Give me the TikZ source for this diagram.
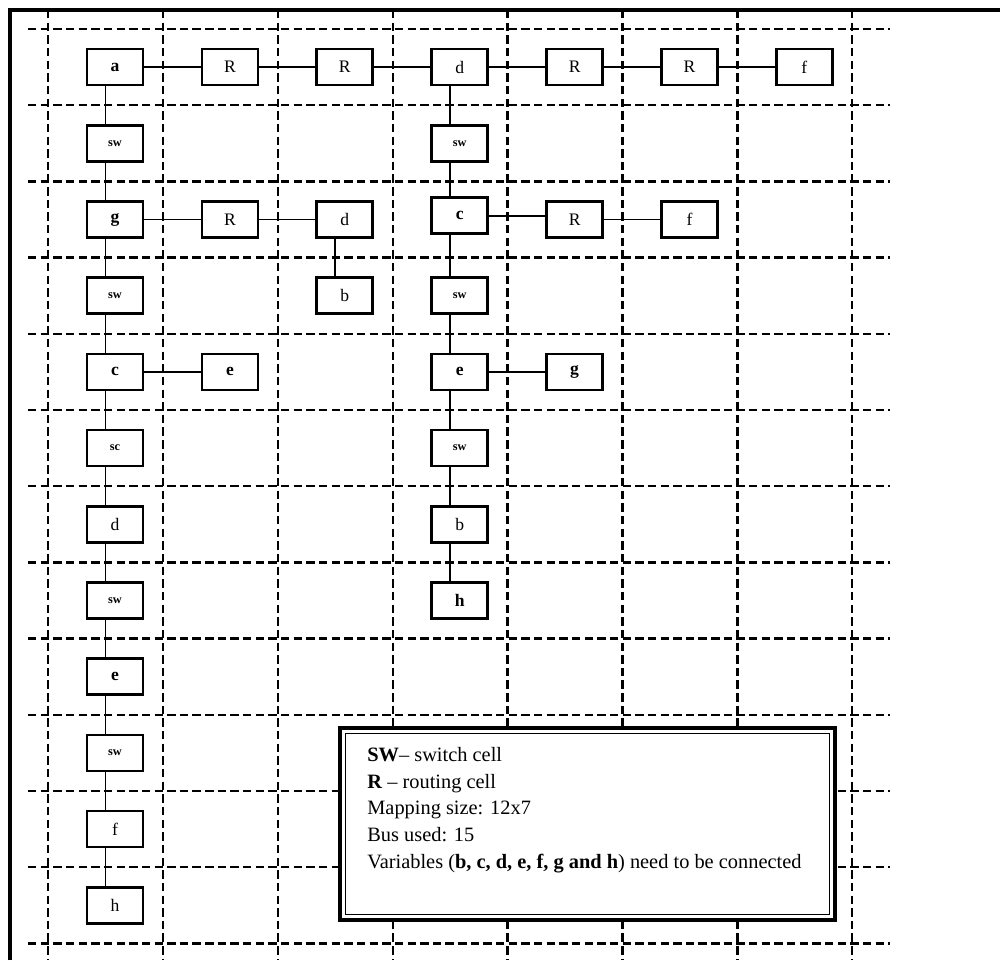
\documentclass[tikz,border=0pt]{standalone}
\usepackage{fontspec}
\setmainfont{Liberation Serif}
\begin{document}
\begin{tikzpicture}[x=0.02cm,y=-0.02cm,
  cell/.style={draw,fill=white,line width=1.5pt,minimum width=1.12cm,minimum height=0.72cm,inner sep=0pt,font=\fontsize{10}{11}\selectfont},
  bcell/.style={cell,font=\fontsize{10}{11}\selectfont\bfseries},
  swcell/.style={cell,font=\fontsize{7}{8}\selectfont\bfseries},
  gridline/.style={line width=1.3pt,dash pattern=on 4.8pt off 2.4pt},
  wire/.style={line width=1.1pt},
  frameline/.style={line width=2.2pt},
  legendtext/.style={anchor=north west,align=left,inner sep=0pt,font=\fontsize{11.6}{15.2}\selectfont}]
\useasboundingbox (0,0) rectangle (1000,960);
% outer frame
\coordinate (ftl) at (10,10);
\coordinate (ftr) at (1000,10);
\coordinate (fbl) at (10,960);
\draw[frameline] (fbl) -- (ftl) -- (ftr);
% dashed grid
\foreach \i in {0,...,7} \draw[gridline] ({48+114.9*\i},10) -- ({48+114.9*\i},960);
\foreach \j in {0,...,12} \draw[gridline] (28,{29+76.2*\j}) -- (890,{29+76.2*\j});
% column centres
\foreach \k in {0,...,6} \coordinate (col\k) at ({105.5+114.9*\k},0);
\newcommand\mycell[5]{\node[#1] (#2) at ({115+114.9*(#3)},{67.1+76.2*(#4)}) {#5};}
% row 0
\mycell{bcell}{r0c0}{0}{0}{a}
\mycell{cell}{r0c1}{1}{0}{R}
\mycell{cell}{r0c2}{2}{0}{R}
\mycell{cell}{r0c3}{3}{0}{d}
\mycell{cell}{r0c4}{4}{0}{R}
\mycell{cell}{r0c5}{5}{0}{R}
\mycell{cell}{r0c6}{6}{0}{f}
% row 1
\mycell{swcell}{r1c0}{0}{1}{sw}
\mycell{swcell}{r1c3}{3}{1}{sw}
% row 2
\mycell{bcell}{r2c0}{0}{2}{g}
\mycell{cell}{r2c1}{1}{2}{R}
\mycell{cell}{r2c2}{2}{2}{d}
\mycell{bcell}{r2c3}{3}{1.95}{c}
\mycell{cell}{r2c4}{4}{2}{R}
\mycell{cell}{r2c5}{5}{2}{f}
% row 3
\mycell{swcell}{r3c0}{0}{3}{sw}
\mycell{cell}{r3c2}{2}{3}{b}
\mycell{swcell}{r3c3}{3}{3}{sw}
% row 4
\mycell{bcell}{r4c0}{0}{4}{c}
\mycell{bcell}{r4c1}{1}{4}{e}
\mycell{bcell}{r4c3}{3}{4}{e}
\mycell{bcell}{r4c4}{4}{4}{g}
% row 5
\mycell{swcell}{r5c0}{0}{5}{sc}
\mycell{swcell}{r5c3}{3}{5}{sw}
% row 6
\mycell{cell}{r6c0}{0}{6}{d}
\mycell{cell}{r6c3}{3}{6}{b}
% row 7
\mycell{swcell}{r7c0}{0}{7}{sw}
\mycell{bcell}{r7c3}{3}{7}{h}
% rows 8-11
\mycell{bcell}{r8c0}{0}{8}{e}
\mycell{swcell}{r9c0}{0}{9}{sw}
\mycell{cell}{r10c0}{0}{10}{f}
\mycell{cell}{r11c0}{0}{11}{h}
% vertical wires
\foreach \pb [remember=\pb as \pa (initially 0)] in {1,...,11}
  \draw[wire] (r\pa c0.south -| col0) -- (r\pb c0.north -| col0);
\foreach \pb [remember=\pb as \pa (initially 0)] in {1,...,7}
  \draw[wire] (r\pa c3.south -| col3) -- (r\pb c3.north -| col3);
\draw[wire] (r2c2.south -| col2) -- (r3c2.north -| col2);
% horizontal wires
\foreach \pb [remember=\pb as \pa (initially 0)] in {1,...,6}
  \draw[wire] (r0c\pa.east) -- (r0c\pb.west);
\draw[wire] (r2c0) -- (r2c1) (r2c1) -- (r2c2);
\draw[wire] (r2c3.east) -- (r2c4.west |- r2c3.east) (r2c4) -- (r2c5);
\draw[wire] (r4c0) -- (r4c1);
\draw[wire] (r4c3) -- (r4c4);
% legend
\coordinate (lgA) at (340,728);
\coordinate (lgB) at (835,920);
\coordinate (lgC) at (345.5,733.5);
\coordinate (lgD) at (829.5,914.5);
\draw[fill=white,line width=1.8pt] (lgA) rectangle (lgB);
\draw[line width=0.9pt] (lgC) rectangle (lgD);
\node[legendtext] (legend) at (367,747) {\textbf{SW}– switch cell\\ \textbf{R} – routing cell\\ Mapping size: 12x7\\ Bus used: 15\\ Variables (\textbf{b, c, d, e, f, g and h}) need to be connected};
\end{tikzpicture}
\end{document}
